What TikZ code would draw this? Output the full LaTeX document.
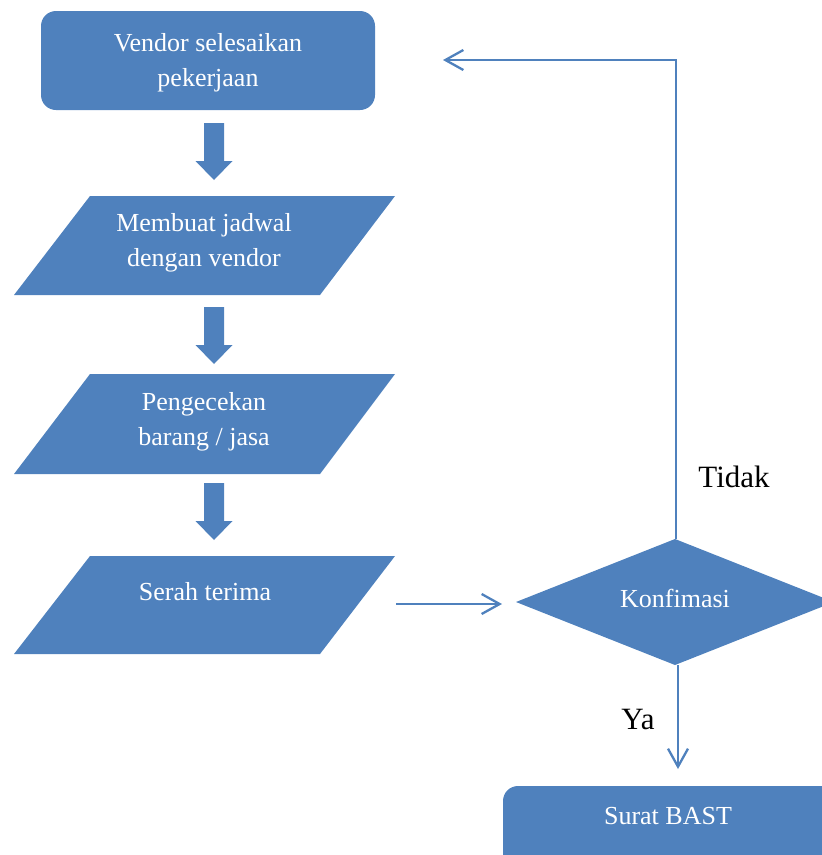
\documentclass[tikz,border=0pt]{standalone}
\usepackage{fontspec}
\setmainfont{Liberation Serif}
\usetikzlibrary{arrows.meta}
\definecolor{officeblue}{HTML}{4F81BD}
\tikzset{
  shapefill/.style={fill=officeblue},
  txt/.style={text=white, font=\fontsize{26}{35}\selectfont, align=center, inner sep=0pt},
  lbl/.style={text=black, font=\fontsize{31}{36}\selectfont, inner sep=0pt},
  conn/.style={draw=officeblue, line width=2.3pt, -{Straight Barb[length=18pt,width=20pt,line width=2.3pt]}},
  pics/blockarrow/.style={code={
    \fill[officeblue] (-10,0) -- (10,0) -- (10,38) -- (18.5,38) -- (0,57) -- (-18.5,38) -- (-10,38) -- cycle;
  }}
}
\begin{document}
\begin{tikzpicture}[x=1pt,y=-1pt]
\useasboundingbox (0,0) rectangle (822,855);
\clip (0,0) rectangle (822,855);
% start box
\fill[shapefill, rounded corners=15pt] (41,11) rectangle (375,110);
\node[txt] (start) at (208,62.5) {Vendor selesaikan\\pekerjaan};
% block arrows
\pic at (214,123) {blockarrow};
\pic at (214,307) {blockarrow};
\pic at (214,483) {blockarrow};
% parallelograms
\fill[shapefill] (90,196) -- (395,196) -- (320,295) -- (14,295) -- cycle;
\node[txt] (p1) at (204,243) {Membuat jadwal\\dengan vendor};
\fill[shapefill] (90,374) -- (395,374) -- (320,474) -- (14,474) -- cycle;
\node[txt] (p2) at (204,422) {Pengecekan\\barang / jasa};
\fill[shapefill] (90,556) -- (395,556) -- (320,654) -- (14,654) -- cycle;
\node[txt] (p3) at (205,592) {Serah terima};
% diamond
\fill[shapefill] (516,602) -- (675,539) -- (834,602) -- (675,665) -- cycle;
\node[txt] (dec) at (675,598) {Konfimasi};
\coordinate (dtop) at (676,539);
\coordinate (dbot) at (678,665);
% end box
\fill[shapefill, rounded corners=15pt] (503,786) rectangle (840,880);
\node[txt] (bast) at (668,816) {Surat BAST};
% connectors
\coordinate (p3out) at (396,604);
\coordinate (dleft) at (502,604);
\draw[conn] (p3out) -- (dleft);
\coordinate (back) at (443,60);
\draw[conn] (dtop) |- (back);
\coordinate (bastin) at (678,769);
\draw[conn] (dbot) -- (bastin);
% labels
\node[lbl] (tidak) at (734,477) {Tidak};
\node[lbl] (ya) at (638,719) {Ya};
\end{tikzpicture}
\end{document}
